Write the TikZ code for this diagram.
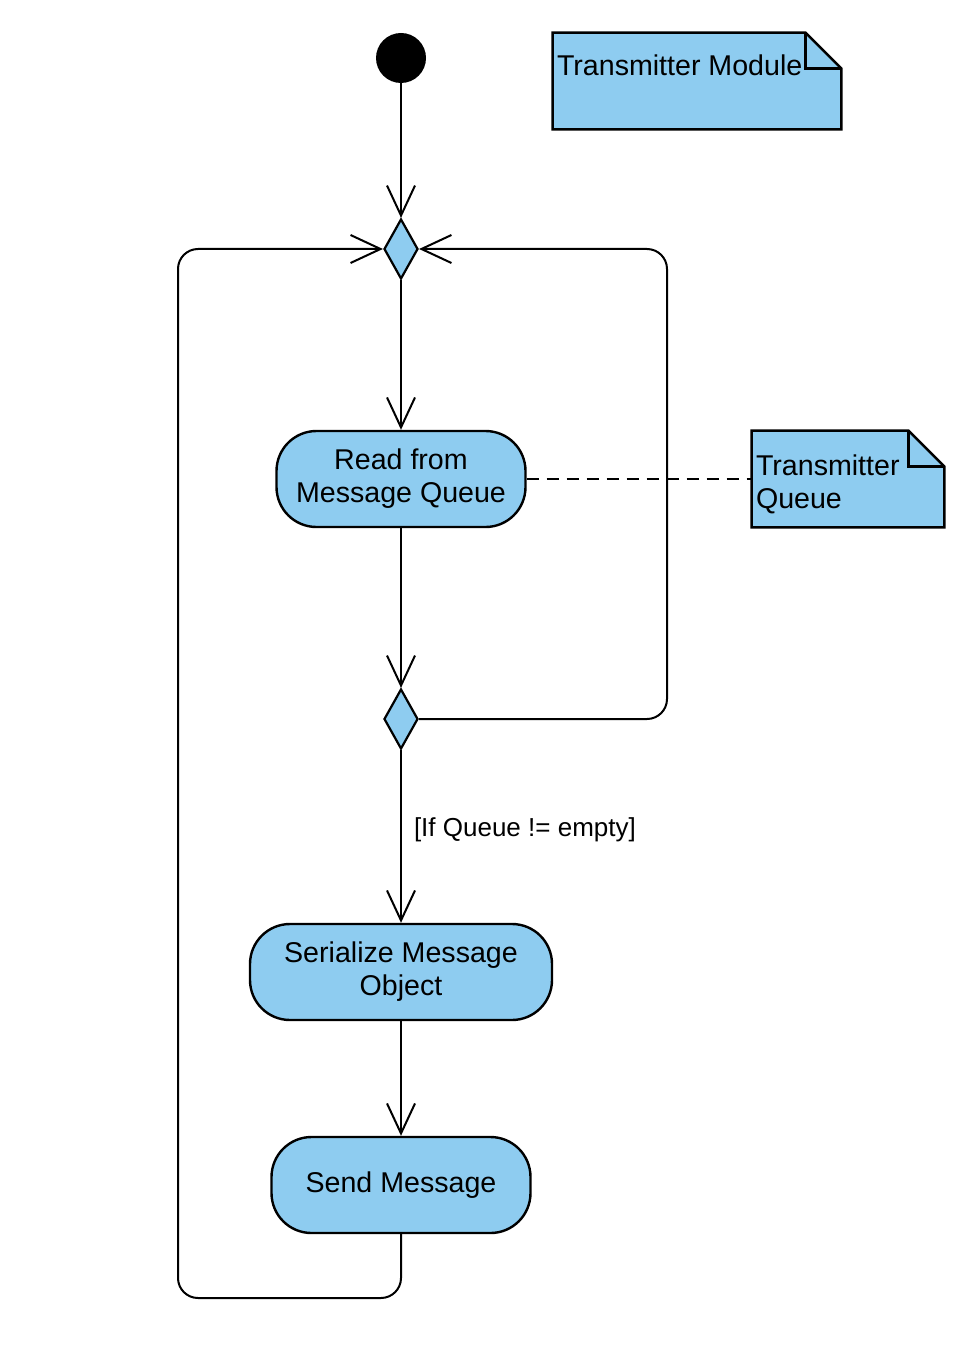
\documentclass[tikz,border=0pt]{standalone}
\usepackage{fontspec}
\setmainfont{Liberation Sans}
\usepackage{xcolor}
\usetikzlibrary{shapes, arrows.meta, positioning}
\definecolor{actblue}{RGB}{142,204,240}

\begin{document}
\begin{tikzpicture}[x=0.5pt, y=-0.5pt, on grid]
\tikzstyle{activity} = [rectangle, rounded corners=20pt, minimum height=48pt, text centered, align=center, draw=black, line width=1.2pt, fill=actblue, font=\fontsize{14.3}{16.5}\selectfont]
\tikzstyle{decision} = [diamond, minimum width=17pt, minimum height=30pt, inner sep=0pt, draw=black, line width=1.1pt, fill=actblue]
\tikzstyle{initial} = [circle, minimum size=25pt, inner sep=0pt, fill=black]
\tikzstyle{notebody} = [rectangle, inner sep=0pt, minimum height=48pt]
\tikzstyle{notetext} = [anchor=north west, inner sep=0pt, align=left, font=\fontsize{14.3}{16.5}\selectfont]
\tikzstyle{notefill} = [fill=actblue, draw=black, line width=1.2pt, line join=miter]
\tikzstyle{arrow} = [line width=1pt, -{Straight Barb[length=15pt, width=14pt]}]
\tikzstyle{link} = [line width=1pt, dash pattern=on 6pt off 4pt]

\useasboundingbox (0,0) rectangle (968,1364);

\node (start) [initial] at (401,58) {};
\node (merge) [decision, below=95.5pt of start] {};
\node (readq) [activity, minimum width=124.5pt, below=115pt of merge, yshift=0pt] {Read from\\Message Queue};
\node (branch) [decision, below=120pt of readq] {};
\node (serial) [activity, minimum width=151pt, below=126.5pt of branch] {Serialize Message\\Object};
\node (send) [activity, minimum width=129.5pt, below=106.5pt of serial] {Send Message};

% notes
\node (modnote) [notebody, minimum width=144pt] at (697,81) {};
\node (qnote) [notebody, minimum width=96pt, right=223.5pt of readq] {};
\filldraw [notefill] (modnote.south west) -- (modnote.north west) -- ([xshift=-18pt]modnote.north east) -- ([yshift=-18pt]modnote.north east) -- (modnote.south east) -- cycle;
\draw [line width=1.2pt] ([xshift=-18pt]modnote.north east) -- ([xshift=-18pt, yshift=-18pt]modnote.north east) -- ([yshift=-18pt]modnote.north east);
\filldraw [notefill] (qnote.south west) -- (qnote.north west) -- ([xshift=-18pt]qnote.north east) -- ([yshift=-18pt]qnote.north east) -- (qnote.south east) -- cycle;
\draw [line width=1.2pt] ([xshift=-18pt]qnote.north east) -- ([xshift=-18pt, yshift=-18pt]qnote.north east) -- ([yshift=-18pt]qnote.north east);
\node (modtitle) [notetext] at ([xshift=2pt, yshift=-11pt]modnote.north west) {Transmitter Module};
\node (qtitle) [notetext] at ([xshift=2pt, yshift=-12pt]qnote.north west) {Transmitter\\Queue};

\coordinate (loopl) at (178,1298);
\coordinate (loopr) at (667,249);

\draw [arrow] (start) -- (merge);
\draw [arrow] (merge) -- (readq);
\draw [arrow] (readq) -- (branch);
\draw [arrow] (branch) -- node (guard) [pos=0.46, right=6pt, inner sep=0pt, font=\fontsize{13}{15}\selectfont] {[If Queue != empty]} (serial);
\draw [arrow] (serial) -- (send);
\draw [arrow, rounded corners=10pt] (send.south) |- (loopl) |- (merge.west);
\draw [arrow, rounded corners=10pt] (branch.east) -| (loopr) -- (merge.east);
\draw [link] (readq.east) -- (qnote.west);

\end{tikzpicture}
\end{document}
